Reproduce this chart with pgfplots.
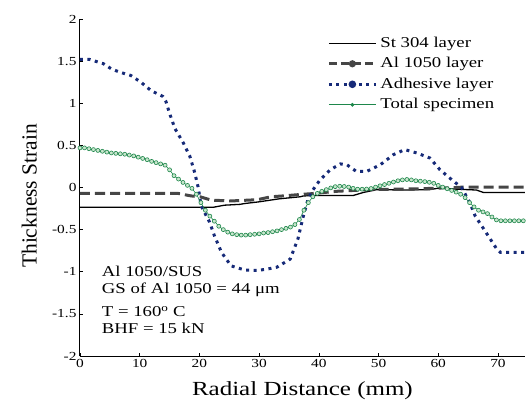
\documentclass[border=0pt]{standalone}
\usepackage{fontspec}
\setmainfont[FakeStretch=1.25]{Liberation Serif}
\newfontfamily\ylabfont{Liberation Serif}
\usepackage{pgfplots}
\pgfplotsset{compat=1.18}
\definecolor{navy}{RGB}{22,42,120}
\definecolor{sgreen}{RGB}{30,135,75}
\definecolor{lgreen}{RGB}{200,230,205}
\definecolor{dgray}{RGB}{70,70,70}
\begin{document}
\begin{tikzpicture}
\path[use as bounding box] (-80pt,-45pt) rectangle (446pt,356pt);
\begin{axis}[at={(0pt,0pt)}, anchor=south west, scale only axis,
  width=444.8pt, height=337pt,
  xmin=0, xmax=74.5, ymin=-2, ymax=2,
  axis lines*=left, axis line style={line width=1pt},
  xtick={0,10,20,30,40,50,60,70},
  ytick={-2,-1.5,-1,-0.5,0,0.5,1,1.5,2},
  xticklabels={0,10,20,30,40,50,60,70},
  yticklabels={-2,-1.5,-1,-0.5,0,0.5,1,1.5,2},
  tick align=inside, major tick length=3pt,
  tick style={black, line width=0.6pt},
  tick label style={font=\fontsize{12.3}{14}\selectfont},
  xlabel={Radial Distance (mm)}, ylabel={Thickness Strain},
  xlabel style={font=\fontsize{20}{24}\selectfont, at={([yshift=-39pt]axis description cs:0.5,0)}, anchor=base},
  ylabel style={font=\ylabfont\fontsize{21.5}{24}\selectfont, at={([xshift=-43.3pt]axis description cs:0,0.475)}, anchor=base},
  legend image code/.code={\draw[mark repeat=2,mark phase=2,#1] plot coordinates {(0pt,0pt) (23.5pt,0pt) (47pt,0pt)};},
  legend style={at={(axis cs:41.4,1.80)}, anchor=north west, draw=none, fill=none, inner sep=0pt,
    font=\fontsize{15}{18}\selectfont, row sep=6pt, column sep=3pt,
    nodes={inner sep=0pt, text height=11pt, text depth=3.5pt}},
  legend cell align=left,
]
% St 304 layer
\addplot[black, line width=1.3pt, forget plot] coordinates {
(0,-0.235) (22.3,-0.235) (24.2,-0.21) (26.8,-0.2) (27.6,-0.19) (30,-0.17) (33.3,-0.135)
(36.9,-0.11) (37.4,-0.10) (40.5,-0.094) (45.8,-0.094) (47.4,-0.06) (49.7,-0.025)
(54.2,-0.03) (58.6,-0.025) (60.3,-0.005) (63.1,-0.02) (66.4,-0.03) (67.6,-0.06) (74.5,-0.06)};
% Al 1050 layer
\addplot[dgray, line width=3pt, dash pattern=on 10pt off 5pt, forget plot] coordinates {
(0,-0.07) (16.4,-0.07) (18.6,-0.1) (20.1,-0.11) (22,-0.15) (25.2,-0.16) (29.7,-0.145)
(32,-0.11) (34,-0.1) (37.4,-0.08) (38.5,-0.075) (43,-0.045) (48.6,-0.025) (57,-0.015)
(60.9,-0.005) (63,0.0) (64.2,0.005) (74.5,0.005)};
% Adhesive layer
\addplot[navy, line width=3pt, dash pattern=on 3pt off 4.5pt, forget plot] coordinates {
(0,1.52) (1.6,1.52) (3.9,1.47) (5.2,1.41) (6.6,1.37) (8.5,1.33) (10.2,1.25) (11.9,1.15)
(13.9,1.08) (14.4,1.02) (15,0.88) (15.9,0.70) (17.3,0.53) (18.4,0.37) (19.2,0.18)
(19.8,0) (20.3,-0.22) (21.7,-0.41) (22.5,-0.57) (23.7,-0.77) (25.3,-0.93) (27.6,-0.98)
(29.8,-0.985) (32,-0.96) (33,-0.945) (35.2,-0.85) (36.5,-0.61) (37.4,-0.34) (38.2,-0.14)
(39,-0.03) (40.2,0.09) (41.9,0.21) (43.6,0.28) (44.7,0.27) (46.3,0.19) (48,0.19)
(50.3,0.27) (52.5,0.39) (54.4,0.45) (56.4,0.41) (58.6,0.35) (60.3,0.21) (62.3,0.09)
(63.9,0) (65.3,-0.18) (66.2,-0.34) (67.6,-0.49) (68.7,-0.61) (69.8,-0.73) (70.4,-0.77) (74.5,-0.77)};
% Total specimen
\addplot[sgreen, line width=0.6pt, mark=*, mark size=2pt, mark options={fill=lgreen, draw=sgreen, line width=0.6pt}, forget plot] coordinates {
(0,0.47) (0.75,0.47) (1.5,0.46) (2.25,0.45) (3,0.44) (3.75,0.43) (4.5,0.42) (5.25,0.41)
(6,0.405) (6.75,0.40) (7.5,0.395) (8.25,0.385) (9,0.375) (9.75,0.36) (10.5,0.345)
(11.25,0.33) (12,0.31) (12.75,0.295) (13.5,0.28) (14.25,0.265) (15,0.21) (15.75,0.14)
(16.5,0.10) (17.25,0.06) (18,0.025) (18.75,-0.01) (19.5,-0.08) (20.25,-0.18) (21,-0.27)
(21.75,-0.34) (22.5,-0.40) (23.25,-0.46) (24,-0.50) (24.75,-0.53) (25.5,-0.55) (26.25,-0.56)
(27,-0.565) (27.75,-0.565) (28.5,-0.56) (29.25,-0.555) (30,-0.55) (30.75,-0.54) (31.5,-0.535)
(32.25,-0.525) (33,-0.515) (33.75,-0.50) (34.5,-0.485) (35.25,-0.47) (36,-0.44) (36.75,-0.38)
(37.5,-0.27) (38.25,-0.18) (39,-0.11) (39.75,-0.07) (40.5,-0.045) (41.25,-0.025) (42,-0.005)
(42.75,0.01) (43.5,0.015) (44.25,0.012) (45,0.005) (45.75,-0.01) (46.5,-0.02) (47.25,-0.02)
(48,-0.018) (48.75,-0.012) (49.5,0.005) (50.25,0.02) (51,0.035) (51.75,0.05) (52.5,0.065)
(53.25,0.08) (54,0.09) (54.75,0.095) (55.5,0.09) (56.25,0.08) (57,0.075) (57.75,0.07)
(58.5,0.062) (59.25,0.05) (60,0.025) (60.75,0.005) (61.5,-0.015) (62.25,-0.035) (63,-0.055)
(63.75,-0.08) (64.5,-0.12) (65.25,-0.18) (66,-0.23) (66.75,-0.27) (67.5,-0.29) (68.25,-0.31)
(69,-0.35) (69.75,-0.385) (70.5,-0.395) (71.25,-0.395) (72,-0.395) (72.75,-0.395) (73.5,-0.395) (74.25,-0.395)};
\addlegendimage{black, line width=1.3pt}
\addlegendentry{St 304 layer}
\addlegendimage{dgray, line width=3pt, dash pattern=on 8pt off 4pt, mark=*, mark size=2pt, mark options={solid}}
\addlegendentry{Al 1050 layer}
\addlegendimage{navy, line width=3pt, dash pattern=on 3pt off 4.5pt, mark=*, mark size=2.2pt, mark options={solid}}
\addlegendentry{Adhesive layer}
\addlegendimage{sgreen, line width=0.6pt, mark=*, mark size=1.6pt}
\addlegendentry{Total specimen}
\node[anchor=base west, font=\fontsize{15}{17}\selectfont, inner sep=0pt] at (axis cs:3.63,-1.062) {Al 1050/SUS};
\node[anchor=base west, font=\fontsize{15}{17}\selectfont, inner sep=0pt] at (axis cs:3.63,-1.259) {GS of Al 1050 = 44 μm};
\node[anchor=base west, font=\fontsize{15}{17}\selectfont, inner sep=0pt] at (axis cs:3.63,-1.533) {T = 160\textsuperscript{o} C};
\node[anchor=base west, font=\fontsize{15}{17}\selectfont, inner sep=0pt] at (axis cs:3.63,-1.729) {BHF = 15 kN};
\end{axis}
\end{tikzpicture}
\end{document}
